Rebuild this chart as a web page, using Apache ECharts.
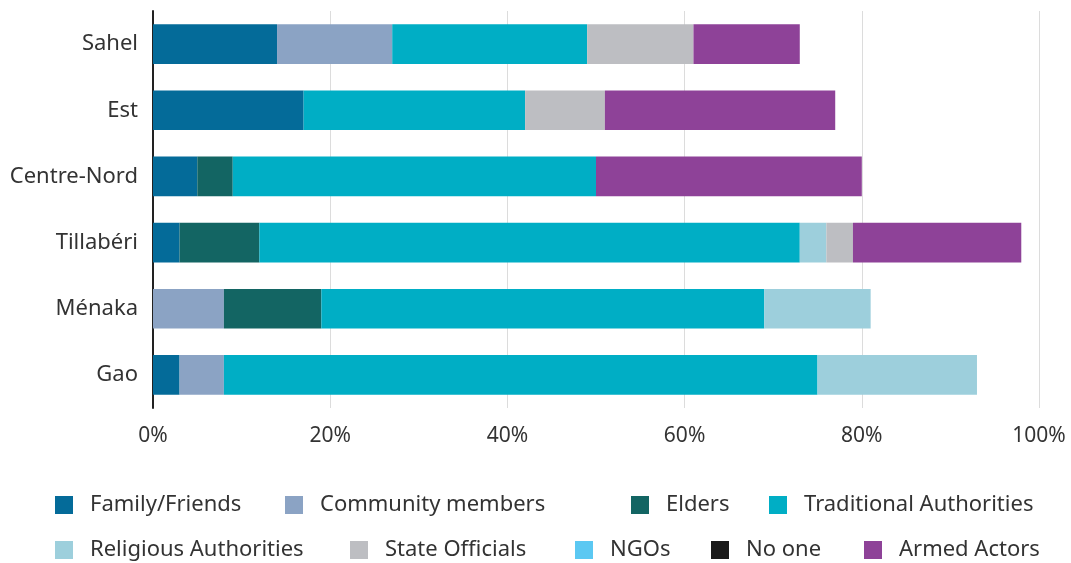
<!DOCTYPE html>
<html><head><meta charset="utf-8">
<script src="https://cdn.jsdelivr.net/npm/echarts@6/dist/echarts.min.js"></script>
<style>html,body{margin:0;padding:0;background:#fff}#c{width:1071px;height:563px}</style>
</head><body><div id="c"></div>
<script>
const categories = ['Sahel', 'Est', 'Centre-Nord', 'Tillabéri', 'Ménaka', 'Gao'];
const seriesNames = ['Family/Friends', 'Community members', 'Elders', 'Traditional Authorities', 'Religious Authorities', 'State Officials', 'NGOs', 'No one', 'Armed Actors'];
const familyFriends = [14, 17, 5, 3, 0, 3];
const communityMembers = [13, 0, 0, 0, 8, 5];
const elders = [0, 0, 4, 9, 11, 0];
const traditionalAuthorities = [22, 25, 41, 61, 50, 67];
const religiousAuthorities = [0, 0, 0, 3, 12, 18];
const stateOfficials = [12, 9, 0, 3, 0, 0];
const ngos = [0, 0, 0, 0, 0, 0];
const noOne = [0, 0, 0, 0, 0, 0];
const armedActors = [12, 26, 30, 19, 0, 0];
const xTicks = [0, 20, 40, 60, 80, 100];

const values = [familyFriends, communityMembers, elders, traditionalAuthorities, religiousAuthorities, stateOfficials, ngos, noOne, armedActors];
const colors = ['#046B99', '#8BA3C4', '#136563', '#00AEC5', '#9DCFDC', '#BDBEC2', '#5BC8F2', '#1A1A1A', '#8E4298'];
const legendPos = [[55, 494], [285, 494], [631, 494], [769, 494], [55, 539], [350, 539], [575, 539], [711, 539], [864, 539]];
const FONT = 'Noto Sans';

const chart = echarts.init(document.getElementById('c'), null, {renderer: 'canvas'});
chart.setOption({
  animation: false,
  textStyle: {fontFamily: FONT},
  grid: {left: 153, right: 32, top: 11, bottom: 155, containLabel: false},
  xAxis: {
    type: 'value', min: 0, max: 100, interval: 20,
    axisLine: {show: false}, axisTick: {show: false},
    splitLine: {lineStyle: {color: '#dcdcdc', width: 1}},
    axisLabel: {formatter: v => v + '%', fontSize: 21, color: '#333', margin: 18, fontFamily: FONT}
  },
  yAxis: {
    type: 'category', data: categories, inverse: true,
    axisLine: {show: true, lineStyle: {color: '#222', width: 2}},
    axisTick: {show: false},
    axisLabel: {fontSize: 22, color: '#333', margin: 15, fontFamily: FONT}
  },
  legend: seriesNames.map((n, i) => ({
    data: [n], left: legendPos[i][0], top: legendPos[i][1],
    itemWidth: 18, itemHeight: 18, icon: 'rect', padding: 0,
    textStyle: {fontSize: 22, color: '#333', fontFamily: FONT, padding: [0, 0, 0, 12]},
    selectedMode: false
  })),
  series: seriesNames.map((n, i) => ({
    name: n, type: 'bar', stack: 'total', data: values[i],
    barWidth: '60%', itemStyle: {color: colors[i]}
  }))
});
</script></body></html>
